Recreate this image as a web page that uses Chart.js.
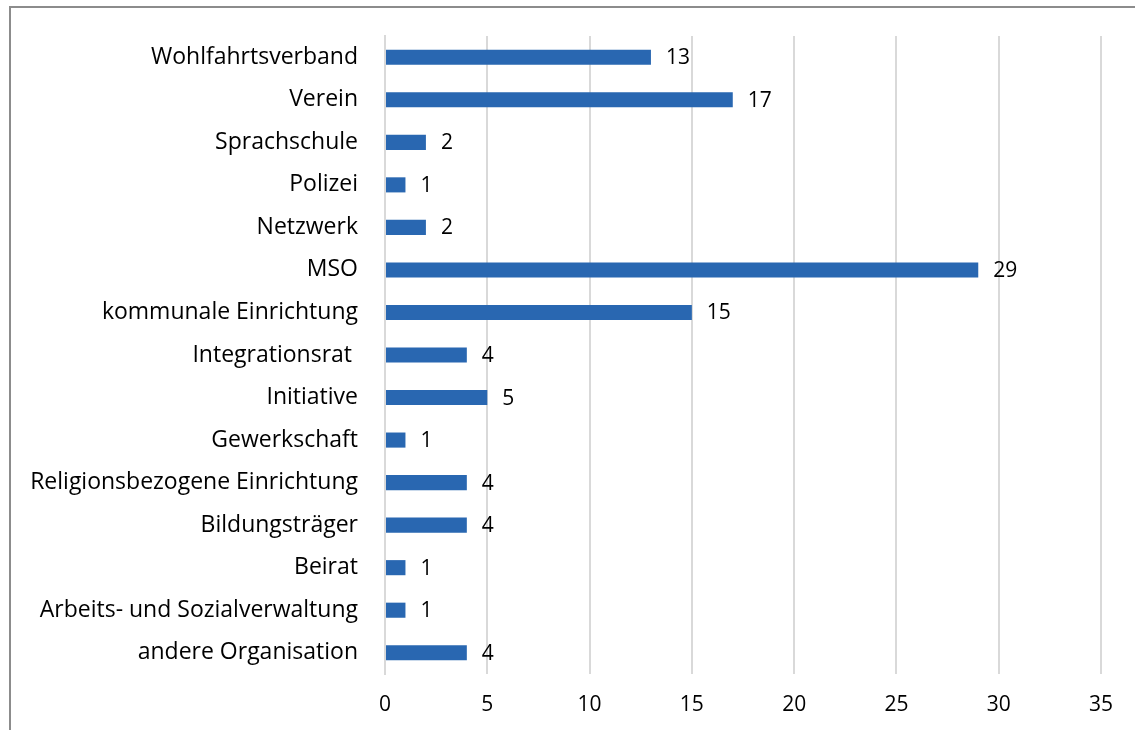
<!DOCTYPE html>
<html>
<head>
<meta charset="utf-8">
<script src="https://cdn.jsdelivr.net/npm/chart.js@4"></script>
<style>
  body { margin: 0; background: #fff; overflow: hidden; }
  #wrap { position: relative; width: 1135px; height: 730px; }
  #frame { position: absolute; left: 9px; top: 6px; width: 1200px; height: 800px; border: 2px solid #8c8c8c; }
  canvas { position: absolute; left: 0; top: 0; }
</style>
</head>
<body>
<div id="wrap">
  <div id="frame"></div>
  <canvas id="myChart" width="1135" height="730"></canvas>
</div>
<script>
var categories = ['Wohlfahrtsverband', 'Verein', 'Sprachschule', 'Polizei', 'Netzwerk', 'MSO',
    'kommunale Einrichtung', 'Integrationsrat ', 'Initiative', 'Gewerkschaft',
    'Religionsbezogene Einrichtung', 'Bildungsträger', 'Beirat',
    'Arbeits- und Sozialverwaltung', 'andere Organisation'];
var values = [13, 17, 2, 1, 2, 29, 15, 4, 5, 1, 4, 4, 1, 1, 4];
var xTicks = [0, 5, 10, 15, 20, 25, 30, 35];

var fontFamily = "'Open Sans', sans-serif";

// draw the numbers right of each bar
var valueLabels = {
    id: 'valueLabels',
    afterDatasetsDraw: function (chart) {
        var c = chart.ctx;
        var meta = chart.getDatasetMeta(0);
        c.save();
        c.font = '21px ' + fontFamily;
        c.fillStyle = '#000000';
        c.textAlign = 'left';
        c.textBaseline = 'middle';
        meta.data.forEach(function (bar, i) {
            c.fillText(values[i], bar.x + 15, bar.y + 1);
        });
        c.restore();
    }
};

var ctx = document.getElementById('myChart').getContext('2d');
var myChart = new Chart(ctx, {
    type: 'bar',
    data: {
        labels: categories,
        datasets: [{
            data: values,
            backgroundColor: '#2967b1',
            borderWidth: 0,
            barPercentage: 0.355,
            categoryPercentage: 1
        }]
    },
    options: {
        indexAxis: 'y',
        responsive: false,
        animation: false,
        layout: { padding: { left: 10, top: 36, right: 34, bottom: 0 } },
        plugins: {
            legend: { display: false },
            tooltip: { enabled: false }
        },
        scales: {
            x: {
                min: 0,
                max: 35,
                afterBuildTicks: function (s) {
                    s.ticks = xTicks.map(function (v) { return { value: v }; });
                },
                afterFit: function (s) { s.height = 56; },
                grid: { color: '#d9d9d9', lineWidth: 2, drawTicks: false },
                border: { display: false },
                ticks: {
                    padding: 18,
                    maxRotation: 0,
                    color: '#000000',
                    font: { family: fontFamily, size: 21 }
                }
            },
            y: {
                afterFit: function (s) { s.width = 375; },
                // invisible tick marks make the gap between labels and axis
                grid: { display: true, color: 'transparent', drawTicks: true, tickLength: 23 },
                border: { display: true, color: '#d9d9d9', width: 2 },
                ticks: {
                    padding: 4,
                    color: '#000000',
                    font: { family: fontFamily, size: 23 }
                }
            }
        }
    },
    plugins: [valueLabels]
});
</script>
</body>
</html>
